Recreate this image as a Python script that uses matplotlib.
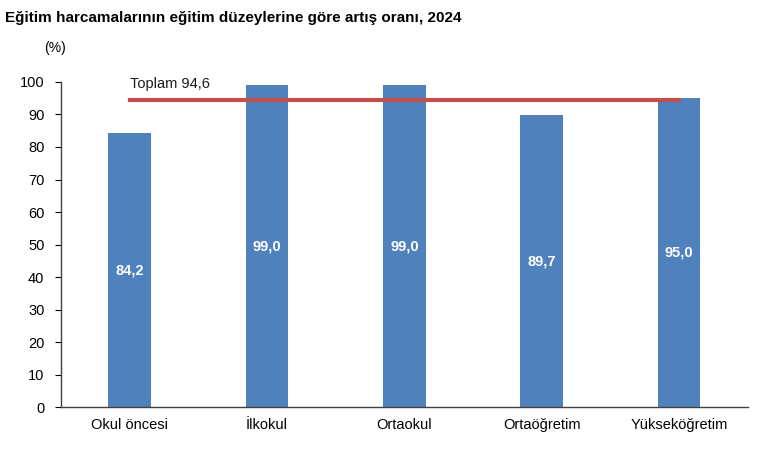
import matplotlib
matplotlib.use("Agg")
import matplotlib.pyplot as plt
import numpy as np

plt.rcParams["font.family"] = ["Liberation Sans", "DejaVu Sans"]

categories = ["Okul öncesi", "İlkokul", "Ortaokul", "Ortaöğretim", "Yükseköğretim"]
values = [84.2, 99.0, 99.0, 89.7, 95.0]
total = 94.6
title = "Eğitim harcamalarının eğitim düzeylerine göre artış oranı, 2024"

fig = plt.figure(figsize=(7.63, 4.53), dpi=100)
ax = fig.add_axes([0.080, 0.1015, 0.900, 0.7175])

x = np.arange(len(categories))
ax.bar(x, values, width=0.31, color="#4F81BD", zorder=2)
ax.plot([x[0], x[-1]], [total, total], color="#C0504D", lw=3, zorder=3)
ax.text(x[0], total + 2.5, f"Toplam {total:.1f}".replace(".", ","),
        fontsize=10.5, va="bottom", ha="left", color="#1a1a1a")

for xi, v in zip(x, values):
    ax.text(xi, v / 2, f"{v:.1f}".replace(".", ","), ha="center", va="center",
            color="white", fontweight="bold", fontsize=10.5, zorder=4)

ax.set_xlim(-0.5, len(categories) - 0.5)
ax.set_ylim(0, 100)
ax.set_yticks(range(0, 101, 10))
ax.set_xticks(x)
ax.set_xticklabels(categories, fontsize=10.5)
ax.tick_params(axis="x", length=0, pad=8)
ax.tick_params(axis="y", labelsize=10.5, length=4, direction="out", pad=8)
ax.spines["top"].set_visible(False)
ax.spines["right"].set_visible(False)
for s in ("left", "bottom"):
    ax.spines[s].set_color("#404040")
    ax.spines[s].set_linewidth(1)

fig.text(0.007, 0.96, title, fontsize=11, fontweight="bold", ha="left", va="center")
fig.text(0.072, 0.893, "(%)", fontsize=10, ha="center", va="center")

fig.savefig("out.png", dpi=100)
